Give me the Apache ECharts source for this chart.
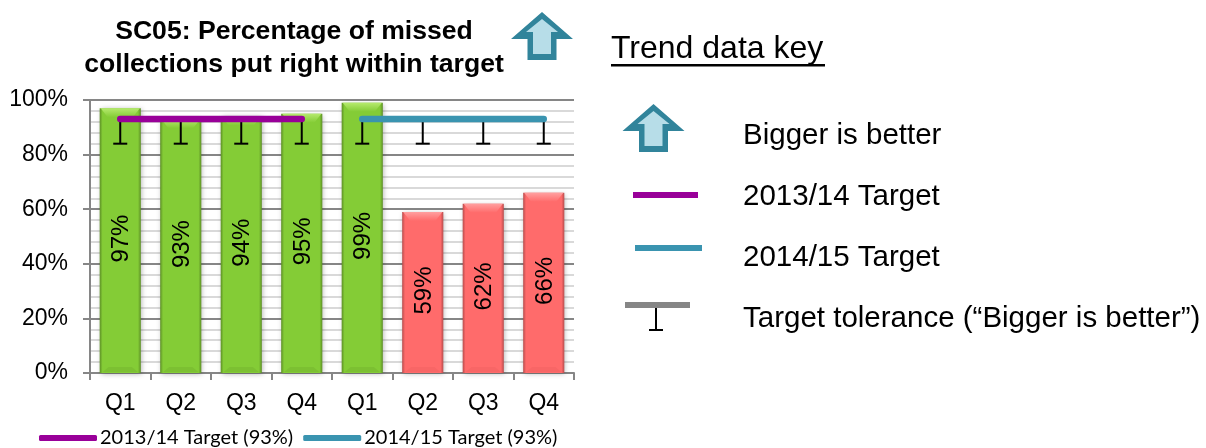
<!DOCTYPE html>
<html>
<head>
<meta charset="utf-8">
<style>html,body{margin:0;padding:0;background:#fff}#c{width:1206px;height:448px}</style>
<script src="https://cdn.jsdelivr.net/npm/echarts@6/dist/echarts.min.js"></script>
</head>
<body>
<div id="c"></div>
<script>
const quarters = ['Q1','Q2','Q3','Q4','Q1','Q2','Q3','Q4'];
const actual = [97,93,94,95,99,59,62,66];
const target1314 = [93,93,93,93,null,null,null,null];
const target1415 = [null,null,null,null,93,93,93,93];
const targetAll = [93,93,93,93,93,93,93,93];
const toleranceLow = [84,84,84,84,84,84,84,84];
const yTicks = {min:0,max:100,interval:20};
const titleLines = 'SC05: Percentage of missed\ncollections put right within target';
const name1314 = '2013/14 Target (93%)';
const name1415 = '2014/15 Target (93%)';
const keyTitle = 'Trend data key';
const keyLabels = ['Bigger is better','2013/14 Target','2014/15 Target','Target tolerance (\u201cBigger is better\u201d)'];

const PURPLE='#990099', TEAL='#3a94b0', FONT='"Liberation Sans",Arial,sans-serif';

function lin(stops,vertical){return new echarts.graphic.LinearGradient(0,0,vertical?0:1,vertical?1:0,stops.map((c)=>({offset:c[0],color:c[1]})));}
const GREEN={edge:'#5d8f26',main:'#84cc36',top:'#b6ea6e',bot:'#7cc032'};
const RED={edge:'#b84c4c',main:'#ff6b6b',top:'#ffa0a0',bot:'#f86666'};

function renderBar(params,api){
  const i=api.value(0), v=api.value(1);
  const top=api.coord([i,v]), base=api.coord([i,0]);
  const w=api.size([1,0])[0]*0.68;
  const x0=top[0]-w/2,x1=top[0]+w/2,y0=top[1],y1=base[1];
  const pal=v>=toleranceLow[i]?GREEN:RED;
  return {type:'group',children:[
    {type:'rect',shape:{x:x0,y:y0,width:w,height:y1-y0},
     style:{fill:lin([[0,pal.edge],[0.07,pal.main],[0.93,pal.main],[1,pal.edge]],false),shadowBlur:5,shadowColor:'rgba(0,0,0,0.3)',shadowOffsetX:1,shadowOffsetY:1}},
    {type:'polygon',shape:{points:[[x0+1,y0],[x1-1,y0],[x1-8,y0+9],[x0+8,y0+9]]},
     style:{fill:lin([[0,pal.top],[1,pal.main]],true)}},
    {type:'polygon',shape:{points:[[x0+3,y1-1],[x1-3,y1-1],[x1-9,y1-6],[x0+9,y1-6]]},
     style:{fill:pal.bot}},
    {type:'text',x:top[0]+1.5,y:(y0+y1)/2-2,rotation:Math.PI/2,
     style:{text:v+'%',fill:'#000',font:'24px '+FONT,align:'center',verticalAlign:'middle'}}
  ]};
}
function renderErr(params,api){
  const i=api.value(0);
  const hi=api.coord([i,api.value(1)]), lo=api.coord([i,api.value(2)]);
  const st={stroke:'#000',lineWidth:2};
  return {type:'group',children:[
    {type:'line',shape:{x1:hi[0],y1:hi[1],x2:lo[0],y2:lo[1]},style:st},
    {type:'line',shape:{x1:lo[0]-7,y1:lo[1],x2:lo[0]+7,y2:lo[1]},style:st}
  ]};
}
function keyText(t,y){return {type:'text',left:743,top:y-17,style:{text:t,fill:'#000',font:'29.5px '+FONT}};}
function arrow(cx,tip){
  const o=(dx,dy)=>[cx+dx,tip+dy];
  return [
    {type:'polygon',z:5,shape:{points:[o(0,0),o(31,27),o(14.5,27),o(14.5,48),o(-14.5,48),o(-14.5,27),o(-31,27)]},style:{fill:'#31849b'}},
    {type:'polygon',z:6,shape:{points:[o(0,7),o(16,20),o(9,20),o(9,42),o(-9,42),o(-9,20),o(-16,20)]},style:{fill:'#b7dde8'}}
  ];
}

const chart=echarts.init(document.getElementById('c'),null,{renderer:'canvas'});
chart.setOption({
  animation:false,
  title:{text:titleLines,left:289,top:10,textAlign:'center',
    textStyle:{fontFamily:FONT,fontWeight:'bold',fontSize:26.6,lineHeight:33,color:'#000'}},
  legend:{left:34,top:423,itemGap:10,itemWidth:58,itemHeight:6,selectedMode:false,
    data:[{name:name1314,icon:'roundRect'},{name:name1415,icon:'roundRect'}],
    textStyle:{fontFamily:'Lato,sans-serif',fontSize:20,color:'#000',padding:[0,0,0,-2]}},
  grid:{left:90,right:632,top:100,height:273,containLabel:false},
  xAxis:{type:'category',data:quarters,boundaryGap:true,
    axisLine:{lineStyle:{color:'#868686',width:2}},
    axisTick:{show:true,length:7,alignWithLabel:false,lineStyle:{color:'#868686',width:2}},
    axisLabel:{interval:0,color:'#000',fontFamily:FONT,fontSize:23,margin:19},
    splitLine:{show:false}},
  yAxis:{type:'value',min:yTicks.min,max:yTicks.max,interval:yTicks.interval,
    axisLine:{show:true,lineStyle:{color:'#868686',width:2}},
    axisTick:{show:true,length:7,lineStyle:{color:'#868686',width:2}},
    axisLabel:{formatter:'{value}%',color:'#000',fontFamily:FONT,fontSize:23,margin:22,padding:[8,0,0,0]},
    splitLine:{show:true,lineStyle:{color:'#868686',width:2}},
    minorTick:{show:false,splitNumber:5},
    minorSplitLine:{show:true,lineStyle:{color:'#d9d9d9',width:2}}},
  series:[
    {type:'custom',name:'Actual',renderItem:renderBar,z:2,data:quarters.map((q,i)=>[i,actual[i]]),encode:{x:0,y:1}},
    {type:'custom',name:'Tolerance',renderItem:renderErr,z:3,data:quarters.map((q,i)=>[i,targetAll[i],toleranceLow[i]]),encode:{x:0,y:[1,2]}},
    {type:'line',name:name1314,data:target1314,symbol:'none',z:4,connectNulls:false,itemStyle:{color:PURPLE},lineStyle:{color:PURPLE,width:6.5,cap:'round'}},
    {type:'line',name:name1415,data:target1415,symbol:'none',z:4,connectNulls:false,itemStyle:{color:TEAL},lineStyle:{color:TEAL,width:6.5,cap:'round'}}
  ],
  graphic:[
    ...arrow(542,12),
    ...arrow(653.5,104),
    {type:'text',left:611,top:33,style:{text:keyTitle,fill:'#000',font:'32px '+FONT}},
    {type:'rect',shape:{x:611,y:64,width:214,height:2.5},style:{fill:'#000'}},
    keyText(keyLabels[0],138),keyText(keyLabels[1],199),keyText(keyLabels[2],260),keyText(keyLabels[3],321),
    {type:'rect',shape:{x:633,y:192,width:65,height:6},style:{fill:PURPLE}},
    {type:'rect',shape:{x:635,y:245,width:67,height:6},style:{fill:TEAL}},
    {type:'rect',shape:{x:625,y:302,width:65,height:6},style:{fill:'#868686'}},
    {type:'line',shape:{x1:656,y1:308,x2:656,y2:330},style:{stroke:'#000',lineWidth:2}},
    {type:'line',shape:{x1:649,y1:330,x2:663,y2:330},style:{stroke:'#000',lineWidth:2}}
  ]
});
</script>
</body>
</html>
